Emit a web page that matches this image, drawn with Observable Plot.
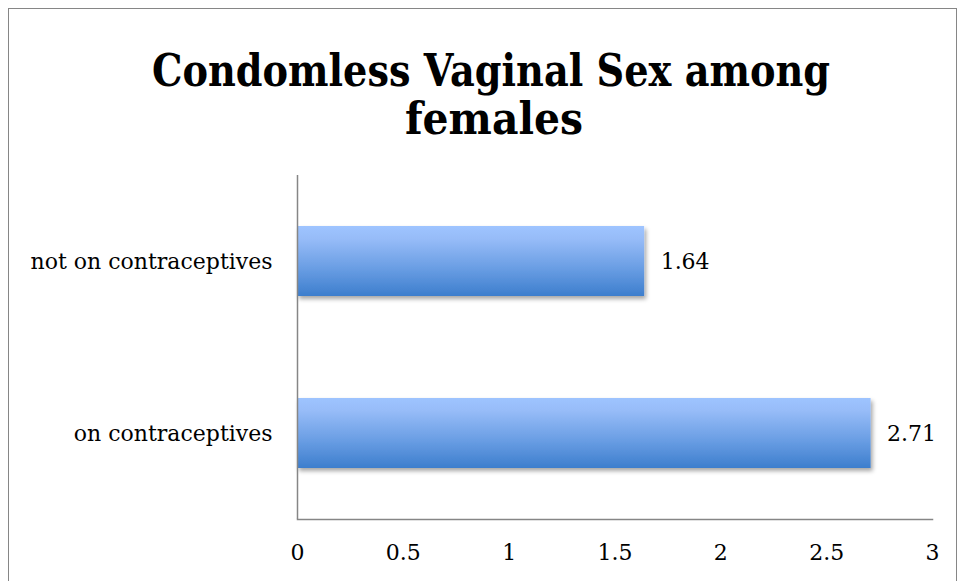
<!DOCTYPE html>
<html><head><meta charset="utf-8">
<script src="https://cdn.jsdelivr.net/npm/d3@7"></script>
<script src="https://cdn.jsdelivr.net/npm/@observablehq/plot@0.6"></script>
<style>
body{margin:0;background:#fff;}
#wrap{position:relative;width:958px;height:581px;overflow:hidden;background:#fff;}
#frame{position:absolute;left:8px;top:8px;width:949px;height:600px;border:1px solid #868686;box-sizing:border-box;}
#plot{position:absolute;left:0;top:0;}
#title{position:absolute;left:0;top:0;z-index:2;}
</style></head><body><div id="wrap"><div id="frame"></div><div id="plot"></div><div id="title"></div></div>
<script>
const categories = ["not on contraceptives", "on contraceptives"];
const values = [1.64, 2.71];
const xTicks = [0, 0.5, 1, 1.5, 2, 2.5, 3];
const titleLines = ["Condomless Vaginal Sex among", "females"];

const data = categories.map((c, i) => ({category: c, value: values[i]}));
const font = "'DejaVu Serif', serif";

const plot = Plot.plot({
  width: 958, height: 581,
  marginLeft: 297, marginRight: 26, marginTop: 175, marginBottom: 62,
  style: {background: "transparent", fontFamily: font, fontSize: "22px", color: "#000", overflow: "visible"},
  x: {domain: [0, 3], ticks: xTicks},
  y: {domain: categories, padding: 0},
  marks: [
    Plot.barX(data, {x: "value", y: "category", fill: "url(#barGrad)", insetTop: 51, insetBottom: 51}),
    Plot.ruleX([0], {stroke: "#868686", strokeWidth: 1.5}),
    Plot.frame({anchor: "bottom", stroke: "#868686", strokeWidth: 1.5}),
    Plot.text(data, {x: "value", y: "category", text: d => d.value.toFixed(2), textAnchor: "start", dx: 16, fontSize: 22, fill: "#000"}),
    Plot.axisX({ticks: xTicks, tickSize: 0, tickPadding: 25, fontSize: 22, tickFormat: d => String(d), label: null, fill: "#000"}),
    Plot.axisY({tickSize: 0, tickPadding: 25, fontSize: 22, label: null, fill: "#000"})
  ]
});
document.getElementById("plot").appendChild(plot);

const svg = d3.select(plot);
const defs = svg.insert("defs", ":first-child");
const grad = defs.append("linearGradient").attr("id", "barGrad")
  .attr("x1", 0).attr("y1", 0).attr("x2", 0).attr("y2", 1);
[[0, "#9ec4ff"], [0.18, "#97bcf8"], [0.6, "#6a9ee4"], [1, "#3d7ecd"]].forEach(([o, c]) =>
  grad.append("stop").attr("offset", o).attr("stop-color", c));
const filt = defs.append("filter").attr("id", "shadow").attr("x", "-5%").attr("y", "-20%").attr("width", "115%").attr("height", "160%");
filt.append("feDropShadow").attr("dx", 2).attr("dy", 3).attr("stdDeviation", 2.2).attr("flood-color", "#000").attr("flood-opacity", 0.35);
svg.selectAll("g[aria-label='bar']").attr("filter", "url(#shadow)");

// title
const tsvg = d3.select("#title").append("svg").attr("width", 958).attr("height", 160);
const tl = [{t: titleLines[0], x: 491, y: 86, w: 678}, {t: titleLines[1], x: 494, y: 134, w: 178}];
tsvg.selectAll("text").data(tl).join("text")
  .attr("x", d => d.x).attr("y", d => d.y)
  .attr("text-anchor", "middle")
  .attr("font-family", font).attr("font-weight", "bold").attr("font-size", 45)
  .attr("textLength", d => d.w).attr("lengthAdjust", "spacingAndGlyphs")
  .text(d => d.t);
</script></body></html>
